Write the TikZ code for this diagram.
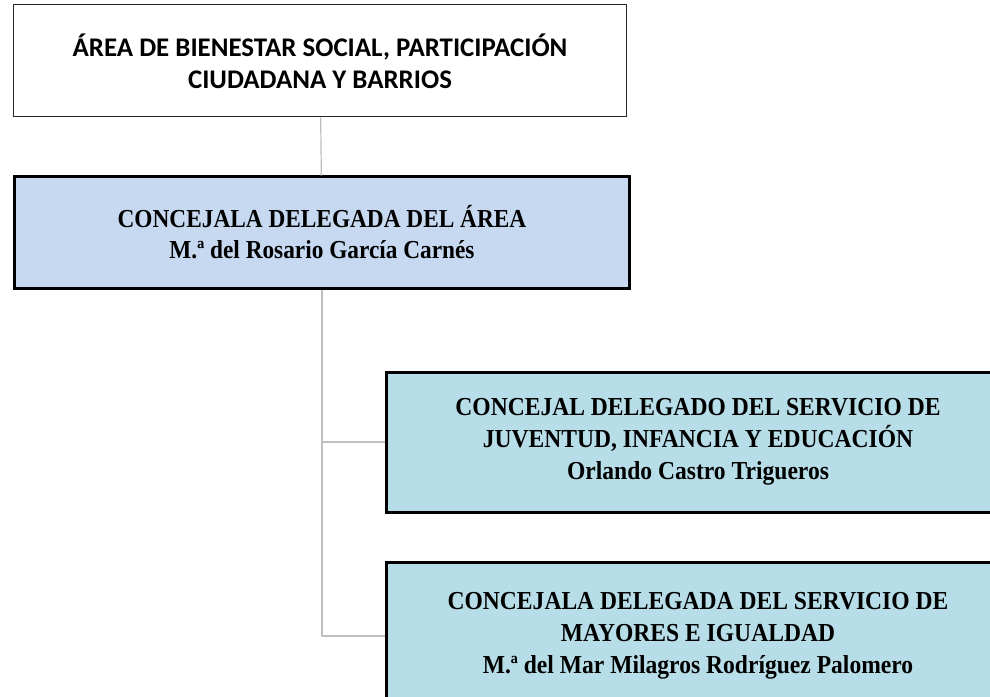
\documentclass[tikz,border=0pt]{standalone}
\usepackage{fontspec}
\setmainfont{Liberation Serif}
\newfontfamily\calibfont{Carlito}
\newfontfamily\delegfont[FakeStretch=0.9]{Liberation Serif}
\newfontfamily\narrowfont[FakeStretch=0.91]{Liberation Serif}
\usetikzlibrary{positioning}
\definecolor{delegblue}{HTML}{C6D9F1}
\definecolor{servteal}{HTML}{B7DEE8}
\definecolor{linkgray}{HTML}{BFBFBF}

\begin{document}
\begin{tikzpicture}[x=1bp,y=-1bp,
  areabox/.style = {draw=black!85, line width=1bp, fill=white, align=center, inner sep=0pt,
    minimum width=612bp, minimum height=112bp, font=\calibfont\bfseries\fontsize{27}{32}\selectfont},
  delegbox/.style = {draw=black, line width=3bp, fill=delegblue, align=center, inner sep=0pt,
    minimum width=614bp, minimum height=111bp, font=\delegfont\bfseries\fontsize{26}{31}\selectfont},
  servbox/.style = {draw=black, line width=3bp, fill=servteal, align=center, inner sep=0pt,
    minimum width=624bp, font=\narrowfont\bfseries\fontsize{26}{32}\selectfont},
  link/.style = {draw=linkgray, line width=1.2bp},]
\clip (0,0) rectangle (990,697);
\node (area) at (320,61) [areabox] {ÁREA DE BIENESTAR SOCIAL, PARTICIPACIÓN\\CIUDADANA Y BARRIOS};
\node (deleg) at (322,232.5) [delegbox] {CONCEJALA DELEGADA DEL ÁREA\\M.ª del Rosario García Carnés};
\node (juv) at (698,442) [servbox,minimum height=140bp] {CONCEJAL DELEGADO DEL SERVICIO DE\\JUVENTUD, INFANCIA Y EDUCACIÓN\\Orlando Castro Trigueros};
\node (may) at (698,636) [servbox,minimum height=148bp] {CONCEJALA DELEGADA DEL SERVICIO DE\\MAYORES E IGUALDAD\\M.ª del Mar Milagros Rodríguez Palomero};
\draw [link] (area) -- (deleg);
\draw [link] (deleg.south) |- (juv.west);
\draw [link] (deleg.south) |- (may.west);
\end{tikzpicture}
\end{document}
